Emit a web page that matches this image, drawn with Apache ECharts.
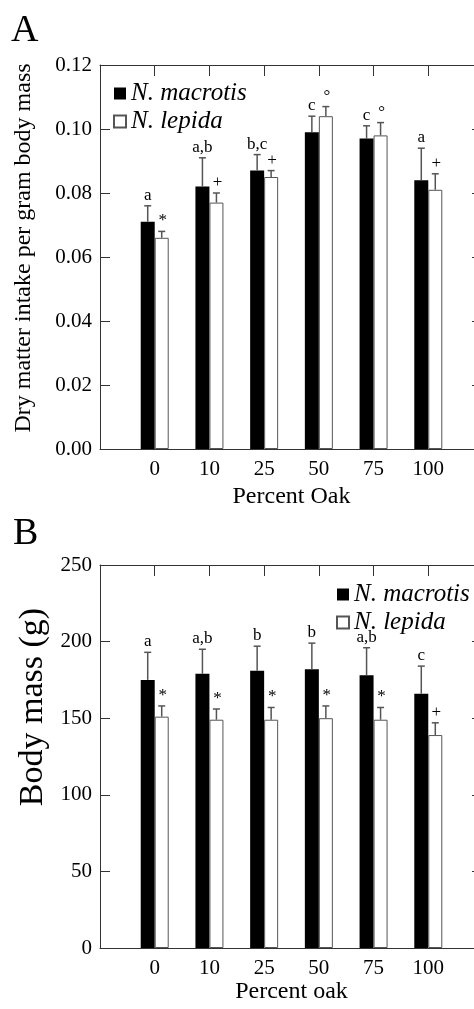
<!DOCTYPE html>
<html>
<head>
<meta charset="utf-8">
<script src="https://cdn.jsdelivr.net/npm/echarts@6/dist/echarts.min.js"></script>
<style>
  html, body { margin: 0; padding: 0; background: #fff; }
  #chart { width: 474px; height: 1009px; }
</style>
</head>
<body>
<div id="chart"></div>
<script>
// percent oak in the diet
const categories = ['0', '10', '25', '50', '75', '100']

// panel A: dry matter intake per gram body mass
const intakeMacrotis = [0.071, 0.082, 0.087, 0.099, 0.097, 0.084]
const intakeMacrotisErr = [0.076, 0.091, 0.092, 0.104, 0.101, 0.094]
const intakeLepida = [0.066, 0.077, 0.085, 0.104, 0.098, 0.081]
const intakeLepidaErr = [0.068, 0.080, 0.087, 0.107, 0.102, 0.086]
const intakeLetters = ['a', 'a,b', 'b,c', 'c', 'c', 'a']
const intakeMarks = ['*', '+', '+', '°', '°', '+']
const intakeTicks = [0, 0.02, 0.04, 0.06, 0.08, 0.10, 0.12]

// panel B: body mass (g)
const massMacrotis = [175, 179, 181, 182, 178, 166]
const massMacrotisErr = [193, 195, 197, 199, 196, 184]
const massLepida = [151, 149, 149, 150, 149, 139]
const massLepidaErr = [158, 156, 157, 158, 157, 147]
const massLetters = ['a', 'a,b', 'b', 'b', 'a,b', 'c']
const massMarks = ['*', '*', '*', '*', '*', '+']
const massTicks = [0, 50, 100, 150, 200, 250]

const FONT = "'Liberation Serif', 'Times New Roman', serif"
const LINE = '#333'
const ERR = '#555'
const BAR_W = 14

// empty slot either side so the groups sit on ticks, like the original
const axisCats = [''].concat(categories, [''])
const pad = arr => [null].concat(arr, [null])

const chart = echarts.init(document.getElementById('chart'))

function errorSeries(name, grid, means, tops, labels, side) {
  return {
    name: name,
    type: 'custom',
    xAxisIndex: grid * 2,
    yAxisIndex: grid * 2,
    z: 5,
    silent: true,
    data: means.map((m, i) => [i + 1, m, tops[i]]),
    renderItem: function (params, api) {
      const base = api.coord([api.value(0), api.value(1)])
      const top = api.coord([api.value(0), api.value(2)])
      const x = base[0] + side * BAR_W / 2
      const lbl = labels[params.dataIndex]
      return {
        type: 'group',
        children: [
          { type: 'line', shape: { x1: x, y1: base[1], x2: x, y2: top[1] }, style: { stroke: ERR, lineWidth: 1.5 } },
          { type: 'line', shape: { x1: x - 3.5, y1: top[1], x2: x + 3.5, y2: top[1] }, style: { stroke: ERR, lineWidth: 1.5 } },
          {
            type: 'text', x: x + (side > 0 ? 1 : 0), y: top[1] - 2,
            style: { text: lbl, align: 'center', verticalAlign: 'bottom', font: '17px ' + FONT, fill: '#000' }
          }
        ]
      }
    }
  }
}

function axesFor(grid, name, nameGap, min, max, interval, fmt) {
  const x = [
    {
      gridIndex: grid, type: 'category', data: axisCats, boundaryGap: false, position: 'bottom',
      axisLine: { onZero: false, lineStyle: { color: LINE, width: 1 } },
      axisTick: { show: false },
      axisLabel: { color: '#000', fontSize: 21, fontFamily: FONT, margin: 10, interval: 0 },
      name: name, nameLocation: 'middle', nameGap: nameGap,
      nameTextStyle: { color: '#000', fontSize: 24, fontFamily: FONT }
    },
    {
      gridIndex: grid, type: 'category', data: axisCats, boundaryGap: false, position: 'top',
      axisLine: { onZero: false, lineStyle: { color: LINE, width: 1 } },
      axisTick: { inside: true, length: 11, interval: 0, lineStyle: { color: LINE } },
      axisLabel: { show: false }
    }
  ]
  const y = [
    {
      gridIndex: grid, type: 'value', min: min, max: max, interval: interval, position: 'left',
      splitLine: { show: false },
      axisLine: { show: true, onZero: false, lineStyle: { color: LINE, width: 1 } },
      axisTick: { show: true, inside: true, length: 10, lineStyle: { color: LINE } },
      axisLabel: { color: '#000', fontSize: 21, fontFamily: FONT, margin: 8, formatter: fmt }
    },
    {
      gridIndex: grid, type: 'value', min: min, max: max, interval: interval, position: 'right',
      splitLine: { show: false },
      axisLine: { show: true, onZero: false, lineStyle: { color: LINE, width: 1 } },
      axisTick: { show: true, inside: true, length: 11, lineStyle: { color: LINE } },
      axisLabel: { show: false }
    }
  ]
  return { x, y }
}

const axA = axesFor(0, 'Percent Oak', 36, intakeTicks[0], intakeTicks[intakeTicks.length - 1], 0.02, v => v.toFixed(2))
const axB = axesFor(1, 'Percent oak', 31, massTicks[0], massTicks[massTicks.length - 1], 50, v => String(v))

const legendStyle = {
  orient: 'vertical',
  itemWidth: 12,
  itemHeight: 12,
  itemGap: 3,
  itemTextGap: 11,
  selectedMode: false,
  textStyle: { color: '#000', fontSize: 25, fontStyle: 'italic', fontFamily: FONT },
  data: [{ name: 'N. macrotis', icon: 'rect' }, { name: 'N. lepida', icon: 'rect' }]
}

const option = {
  animation: false,
  backgroundColor: '#fff',
  textStyle: { fontFamily: FONT },
  grid: [
    { left: 100, top: 65, width: 383, height: 384, outerBoundsMode: 'none', containLabel: false },
    { left: 100, top: 565, width: 383, height: 383, outerBoundsMode: 'none', containLabel: false }
  ],
  legend: [
    Object.assign({ left: 108, top: 76 }, legendStyle),
    Object.assign({ left: 331, top: 577 }, legendStyle)
  ],
  graphic: [
    { type: 'text', x: 11, y: 31, style: { text: 'A', font: '38px ' + FONT, fill: '#000', verticalAlign: 'middle' } },
    { type: 'text', x: 13, y: 534, style: { text: 'B', font: '38px ' + FONT, fill: '#000', verticalAlign: 'middle' } },
    {
      type: 'text', x: 24, y: 248, rotation: Math.PI / 2,
      style: { text: 'Dry matter intake per gram body mass', font: '24px ' + FONT, fill: '#000', align: 'center', verticalAlign: 'middle' }
    },
    {
      type: 'text', x: 33, y: 707, rotation: Math.PI / 2,
      style: { text: 'Body mass (g)', font: '34px ' + FONT, fill: '#000', align: 'center', verticalAlign: 'middle' }
    }
  ],
  xAxis: axA.x.concat(axB.x),
  yAxis: axA.y.concat(axB.y),
  series: [
    {
      name: 'N. macrotis', type: 'bar', xAxisIndex: 0, yAxisIndex: 0,
      data: pad(intakeMacrotis), barWidth: BAR_W, barGap: '0%',
      itemStyle: { color: '#000' }
    },
    {
      name: 'N. lepida', type: 'bar', xAxisIndex: 0, yAxisIndex: 0,
      data: pad(intakeLepida), barWidth: BAR_W, barGap: '0%',
      itemStyle: { color: '#fff', borderColor: ERR, borderWidth: 1 }
    },
    {
      name: 'N. macrotis', type: 'bar', xAxisIndex: 2, yAxisIndex: 2,
      data: pad(massMacrotis), barWidth: BAR_W, barGap: '0%',
      itemStyle: { color: '#000' }
    },
    {
      name: 'N. lepida', type: 'bar', xAxisIndex: 2, yAxisIndex: 2,
      data: pad(massLepida), barWidth: BAR_W, barGap: '0%',
      itemStyle: { color: '#fff', borderColor: ERR, borderWidth: 1 }
    },
    errorSeries('errA1', 0, intakeMacrotis, intakeMacrotisErr, intakeLetters, -1),
    errorSeries('errA2', 0, intakeLepida, intakeLepidaErr, intakeMarks, 1),
    errorSeries('errB1', 1, massMacrotis, massMacrotisErr, massLetters, -1),
    errorSeries('errB2', 1, massLepida, massLepidaErr, massMarks, 1)
  ]
}

chart.setOption(option)
</script>
</body>
</html>
